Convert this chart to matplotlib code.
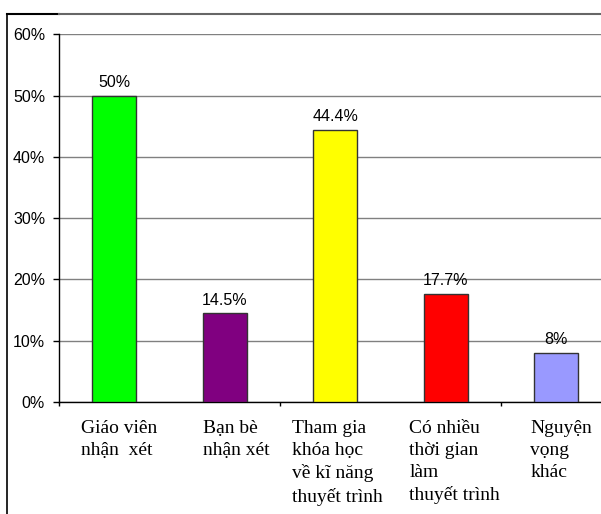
""" Bar chart - survey of wishes about presentation skills.
"""
import matplotlib.pyplot as plt
from matplotlib.lines import Line2D
from matplotlib.ticker import FuncFormatter

categories = ["Giáo viên\nnhận  xét",
              "Bạn bè\nnhận xét",
              "Tham gia\nkhóa học\nvề kĩ năng\nthuyết trình",
              "Có nhiều\nthời gian\nlàm\nthuyết trình",
              "Nguyện\nvọng\nkhác"]
values = [50, 14.5, 44.4, 17.7, 8]
value_labels = ["50%", "14.5%", "44.4%", "17.7%", "8%"]
bar_colors = ["#00ff00", "#800080", "#ffff00", "#ff0000", "#9999ff"]

# left edge of each category label, relative to category centre (data units)
label_shift = [-0.30, -0.20, -0.39, -0.33, -0.235]

fig = plt.figure(figsize=(6.01, 5.14), dpi=100)
ax = fig.add_axes([59 / 601, 1 - 402 / 514, 552.5 / 601, 367.7 / 514])

pos = list(range(len(categories)))
ax.bar(pos, [v / 100 for v in values], 0.4, color=bar_colors,
       edgecolor="#333333", linewidth=1.0, zorder=3)

for i, txt in enumerate(value_labels):
    ax.annotate(txt, (pos[i], values[i] / 100), xytext=(0, 4),
                textcoords="offset points", ha="center", va="bottom",
                fontsize=11.5, family="Liberation Sans", zorder=4)

ax.set_xlim(-0.5, len(categories) - 0.5)
ax.set_ylim(0, 0.6)
ax.set_yticks([i / 10 for i in range(7)])
ax.yaxis.set_major_formatter(FuncFormatter(lambda y, _: "%d%%" % round(y * 100)))
ax.grid(axis="y", color="#808080", linewidth=1.0, zorder=0)
ax.tick_params(axis="y", direction="out", length=4, width=1, pad=6,
               labelsize=11.5)
for lbl in ax.get_yticklabels():
    lbl.set_family("Liberation Sans")

# category ticks only every second boundary
ax.set_xticks([-0.5, 1.5, 3.5])
ax.set_xticklabels([])
ax.tick_params(axis="x", direction="out", length=3, width=1)

for side in ["top", "right"]:
    ax.spines[side].set_visible(False)
ax.spines["left"].set_linewidth(1.0)
ax.spines["bottom"].set_linewidth(1.0)

for i, name in enumerate(categories):
    ax.annotate(name, (pos[i] + label_shift[i], 0), xytext=(0, -13),
                textcoords="offset points", ha="left", va="top",
                fontsize=14, family="Liberation Serif", linespacing=1.38,
                annotation_clip=False)

# outer frame (left and top edge of the picture)
fig.add_artist(Line2D([7 / 601, 7 / 601], [0, 1 - 14 / 514],
                      color="black", linewidth=1.2))
fig.add_artist(Line2D([7 / 601, 59 / 601], [1 - 14 / 514, 1 - 14 / 514],
                      color="black", linewidth=1.5))
fig.add_artist(Line2D([59 / 601, 1], [1 - 14 / 514, 1 - 14 / 514],
                      color="#666666", linewidth=1.5))

plt.savefig("out.png", dpi=100)
